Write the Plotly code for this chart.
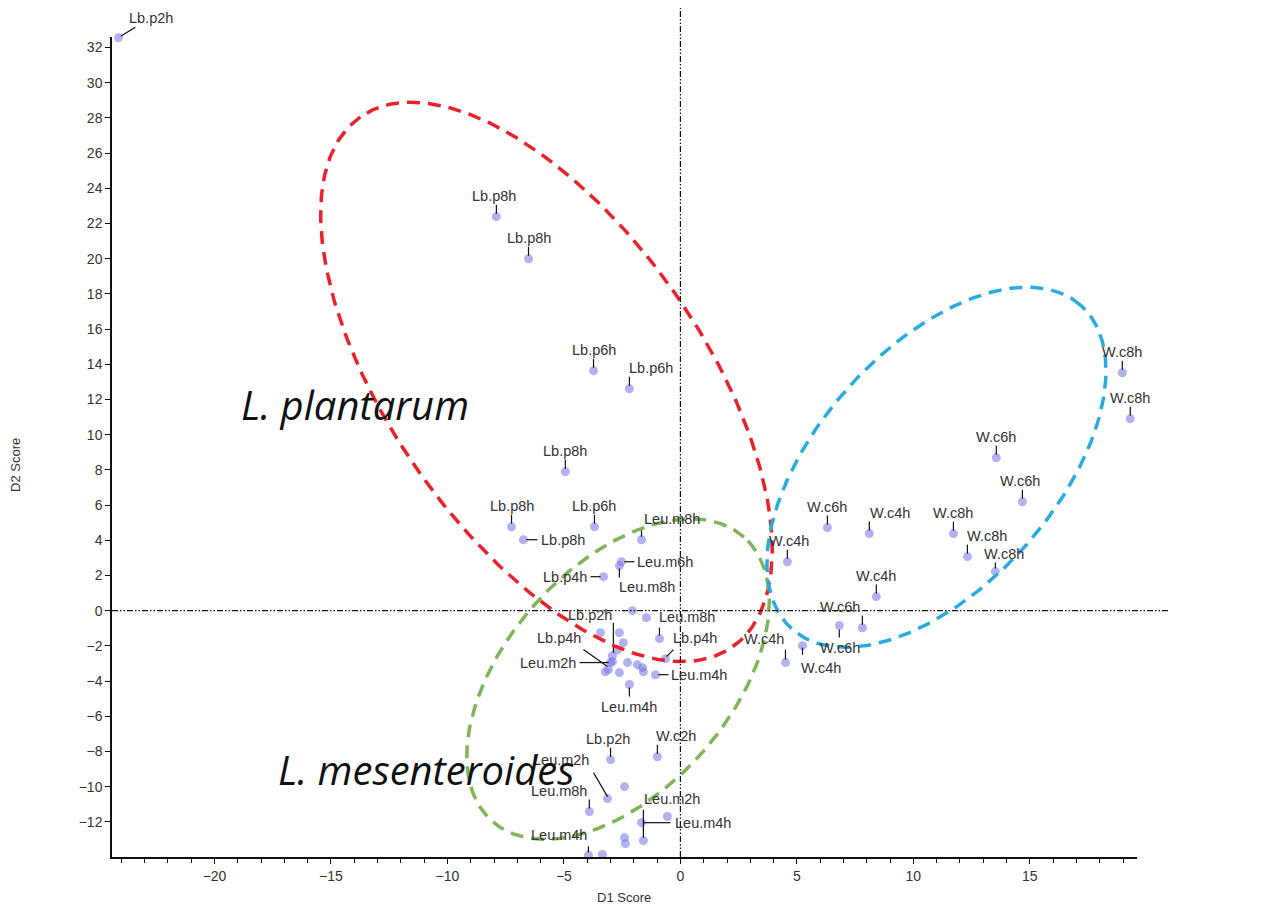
import numpy as np
import plotly.graph_objects as go

# ---------------- data ----------------
lb_names = ["Lb.p2h", "Lb.p8h", "Lb.p8h", "Lb.p6h", "Lb.p6h", "Lb.p8h", "Lb.p8h",
            "Lb.p6h", "Lb.p8h", "Lb.p4h", "Lb.p2h", "Lb.p4h", "Lb.p4h", "Lb.p2h"]
lb_d1 = [-24.12, -7.90, -6.52, -3.73, -2.19, -4.94, -7.25,
         -3.69, -6.74, -3.30, -2.92, -3.09, -0.64, -3.00]
lb_d2 = [32.56, 22.39, 20.00, 13.64, 12.61, 7.90, 4.77,
         4.77, 4.03, 1.93, -2.56, -3.35, -2.73, -8.47]

leu_names = ["Leu.m2h", "Leu.m8h", "Leu.m6h", "Leu.m8h", "Leu.m8h", "Leu.m4h", "Leu.m4h",
             "Leu.m2h", "Leu.m8h", "Leu.m2h", "Leu.m4h", "Leu.m4h"]
leu_d1 = [-3.00, -1.67, -2.53, -2.62, -0.90, -1.07, -2.19,
          -3.13, -3.91, -1.59, -1.67, -3.95]
leu_d2 = [-2.95, 4.03, 2.78, 2.56, -1.59, -3.64, -4.20,
          -10.68, -11.42, -13.07, -12.05, -13.90]

wc_names = ["W.c2h", "W.c4h", "W.c4h", "W.c6h", "W.c6h", "W.c4h", "W.c4h", "W.c6h",
            "W.c4h", "W.c8h", "W.c8h", "W.c6h", "W.c6h", "W.c8h", "W.c8h", "W.c8h"]
wc_d1 = [-0.99, 4.51, 5.24, 6.82, 7.81, 8.41, 4.59, 6.31,
         8.11, 18.97, 19.31, 13.56, 14.68, 11.72, 12.32, 13.52]
wc_d2 = [-8.30, -2.95, -1.99, -0.85, -0.97, 0.80, 2.78, 4.72,
         4.38, 13.52, 10.91, 8.69, 6.19, 4.38, 3.07, 2.22]

# unlabelled observations
free_d1 = [-2.06, -1.46, -3.43, -2.62, -2.45, -2.70, -2.92, -3.22, -2.62,
           -2.27, -1.85, -1.63, -1.59, -2.40, -0.56, -2.40, -2.36, -3.35]
free_d2 = [0.00, -0.40, -1.25, -1.25, -1.82, -2.22, -2.90, -3.47, -3.52,
           -2.95, -3.07, -3.24, -3.47, -10.00, -11.70, -12.90, -13.24, -13.86]

# group ellipses: centre (D1, D2), semi-axes (D1 units), tilt (deg on screen)
ell_names = ["L. plantarum", "L. mesenteroides", "W. confusa"]
ell_cx = [-5.75, -2.68, 10.99]
ell_cy = [13.00, -3.89, 8.15]
ell_a = [13.9, 8.15, 9.31]
ell_b = [6.7, 4.8, 5.1]
ell_ang = [125.1, 48.4, 48.2]

x_ticks = [-20, -15, -10, -5, 0, 5, 10, 15]
y_ticks = list(range(-12, 33, 2))
x_title = "D1 Score"
y_title = "D2 Score"

# ---------------- label placement (pixels, y up) ----------------
def up(dx=0, dy=21):
    return (0, 3, 0, 12, dx, dy, "center")
RIGHT = (3, 0, 14, 0, 16, 0, "left")
LEFT = (-3, 0, -13, 0, -15, 0, "right")

lb_place = [(3, 3, 13, 12, 32, 20, "center"), up(-2), up(), up(), up(22), up(), up(),
            up(), RIGHT, LEFT, (1, 3, 1, 33, -22, 41, "center"),
            (-1, 3, -25, 20, -49, 32, "center"), (1, 2, 8, 9, 29, 21, "center"), up(-3)]
leu_place = [(-2, 0, -31, 0, -33, 0, "right"), up(30), (3, 0, 13, 0, 14, 0, "left"),
             (0, -3, 0, -12, 28, -21, "center"), (0, 3, 0, 11, 28, 22, "center"),
             (3, 0, 13, 0, 14, 0, "left"), (0, -3, 0, -12, 0, -22, "center"),
             (0, 2, -14, 26, -46, 39, "center"), up(-30), (0, 3, 0, 31, 29, 42, "center"),
             (2, 0, 29, 0, 31, 0, "left"), (0, 3, 0, 9, -29, 20, "center")]
wc_place = [up(19), (0, 3, 0, 13, -21, 24, "center"), (0, -2, 0, -9, 19, -22, "center"),
            (0, -4, 0, -12, 1, -22, "center"), up(-22), up(), up(2), up(), up(21),
            up(), up(), up(), up(-2), up(), up(20), (0, 3, 0, 9, 9, 18, "center")]

# ---------------- layout geometry ----------------
W, H = 1282, 909
ML, MR, MT, MB = 112, 145, 37, 52
PW, PH = W - ML - MR, H - MT - MB
xr = [-24.4, 19.6]
yr = [-14.0, 32.6]
kx = PW / (xr[1] - xr[0])   # px per D1 unit
ky = PH / (yr[1] - yr[0])   # px per D2 unit

fig = go.Figure()

all_x = lb_d1 + leu_d1 + wc_d1 + free_d1
all_y = lb_d2 + leu_d2 + wc_d2 + free_d2
fig.add_trace(go.Scatter(x=all_x, y=all_y, mode="markers", cliponaxis=False,
                         marker=dict(size=9, color="rgba(115,115,228,0.55)",
                                     line=dict(width=0)),
                         hoverinfo="skip", showlegend=False))

# leader lines
names = lb_names + leu_names + wc_names
xs = lb_d1 + leu_d1 + wc_d1
ys = lb_d2 + leu_d2 + wc_d2
places = lb_place + leu_place + wc_place
lx, ly = [], []
for x, y, p in zip(xs[1:], ys[1:], places[1:]):
    lx += [x + p[0] / kx, x + p[2] / kx, None]
    ly += [y + p[1] / ky, y + p[3] / ky, None]
fig.add_trace(go.Scatter(x=lx, y=ly, mode="lines", line=dict(color="#111111", width=1.2),
                         hoverinfo="skip", showlegend=False))

# ellipses
ell_colors = ["#E8212B", "#80B45A", "#2AABE0"]
t = np.linspace(0, 2 * np.pi, 300)
for cx, cy, a, b, ang, col in zip(ell_cx, ell_cy, ell_a, ell_b, ell_ang, ell_colors):
    th = np.radians(ang)
    u, v = a * np.cos(t), b * np.sin(t)
    X = u * np.cos(th) - v * np.sin(th)
    Y = u * np.sin(th) + v * np.cos(th)
    fig.add_trace(go.Scatter(x=cx + X, y=cy + Y * kx / ky, mode="lines",
                             line=dict(color=col, width=3.5, dash="13px,8px"),
                             hoverinfo="skip", showlegend=False))

# point labels
lab_font = dict(family="Liberation Sans, Arial", size=14.5, color="#333333")
for i, (x, y, n, p) in enumerate(zip(xs, ys, names, places)):
    if i == 0:
        # top-left point: leader drawn with the annotation arrow (outside plot area)
        fig.add_annotation(x=x, y=y, text=n, showarrow=True, arrowhead=0, arrowwidth=1.2,
                           arrowcolor="#111111", ax=p[4], ay=-p[5], standoff=3,
                           xanchor="center", yanchor="middle", font=lab_font)
        continue
    fig.add_annotation(x=x, y=y, text=n, showarrow=False, xshift=p[4], yshift=p[5],
                       xanchor=p[6], yanchor="middle", font=lab_font)

# group labels
grp_x = [-13.95, -10.9, 20.86]
grp_y = [11.7, -9.03, 5.34]
grp_txt = ["L. plantarum", "L. mesenteroides", "W. confusa"]
for gx, gy, g in zip(grp_x, grp_y, grp_txt):
    fig.add_annotation(x=gx, y=gy, text="<i>%s</i>" % g, showarrow=False,
                       xanchor="center", yanchor="middle",
                       font=dict(family="Open Sans, Noto Sans", size=40, color="#111111"))

# axis titles (placed in paper coordinates so margins stay fixed)
title_font = dict(family="Liberation Sans, Arial", size=13, color="#333333")
fig.add_annotation(xref="paper", yref="paper", x=(624 - ML) / PW, y=-(897 - (H - MB)) / PH,
                   text=x_title, showarrow=False, xanchor="center", yanchor="middle",
                   font=title_font)
fig.add_annotation(xref="paper", yref="paper", x=(15 - ML) / PW, y=(H - MB - 465) / PH,
                   text=y_title, showarrow=False, textangle=-90, xanchor="center",
                   yanchor="middle", font=title_font)

# dash-dot reference lines through the origin
dd = "6px,2px,1.5px,2px,1.5px,2px"
fig.add_shape(type="line", xref="x", yref="paper", x0=0, x1=0, y0=0,
              y1=(H - MB - 8) / PH, line=dict(color="#111111", width=1.2, dash=dd))
fig.add_shape(type="line", xref="paper", yref="y", x0=0, x1=(1168 - ML) / PW,
              y0=0, y1=0, line=dict(color="#111111", width=1.2, dash=dd))

tickfont = dict(family="Liberation Sans, Arial", size=14, color="#333333")
fig.update_layout(
    width=W, height=H, margin=dict(l=ML, r=MR, t=MT, b=MB, autoexpand=False),
    paper_bgcolor="white", plot_bgcolor="white",
    xaxis=dict(range=xr, tickvals=x_ticks, ticks="outside", ticklen=5, tickcolor="#111",
               showline=True, linecolor="#111", linewidth=1.5, showgrid=False, zeroline=False,
               minor=dict(dtick=1, ticks="outside", ticklen=4, tickcolor="#111"),
               tickfont=tickfont, automargin=False),
    yaxis=dict(range=yr, tickvals=y_ticks, ticks="outside", ticklen=5, tickcolor="#111",
               showline=True, linecolor="#111", linewidth=1.5, showgrid=False, zeroline=False,
               tickfont=tickfont, automargin=False),
)

post = ("document.documentElement.style.margin='0';"
        "document.body.style.margin='0';"
        "document.body.style.overflow='hidden';"
        "document.documentElement.style.overflow='hidden';"
        "var gd=document.getElementById('{plot_id}');"
        "gd.style.position='fixed';gd.style.top='0px';gd.style.left='0px';")
fig.write_html("out.html", config={"displayModeBar": False}, post_script=post)
